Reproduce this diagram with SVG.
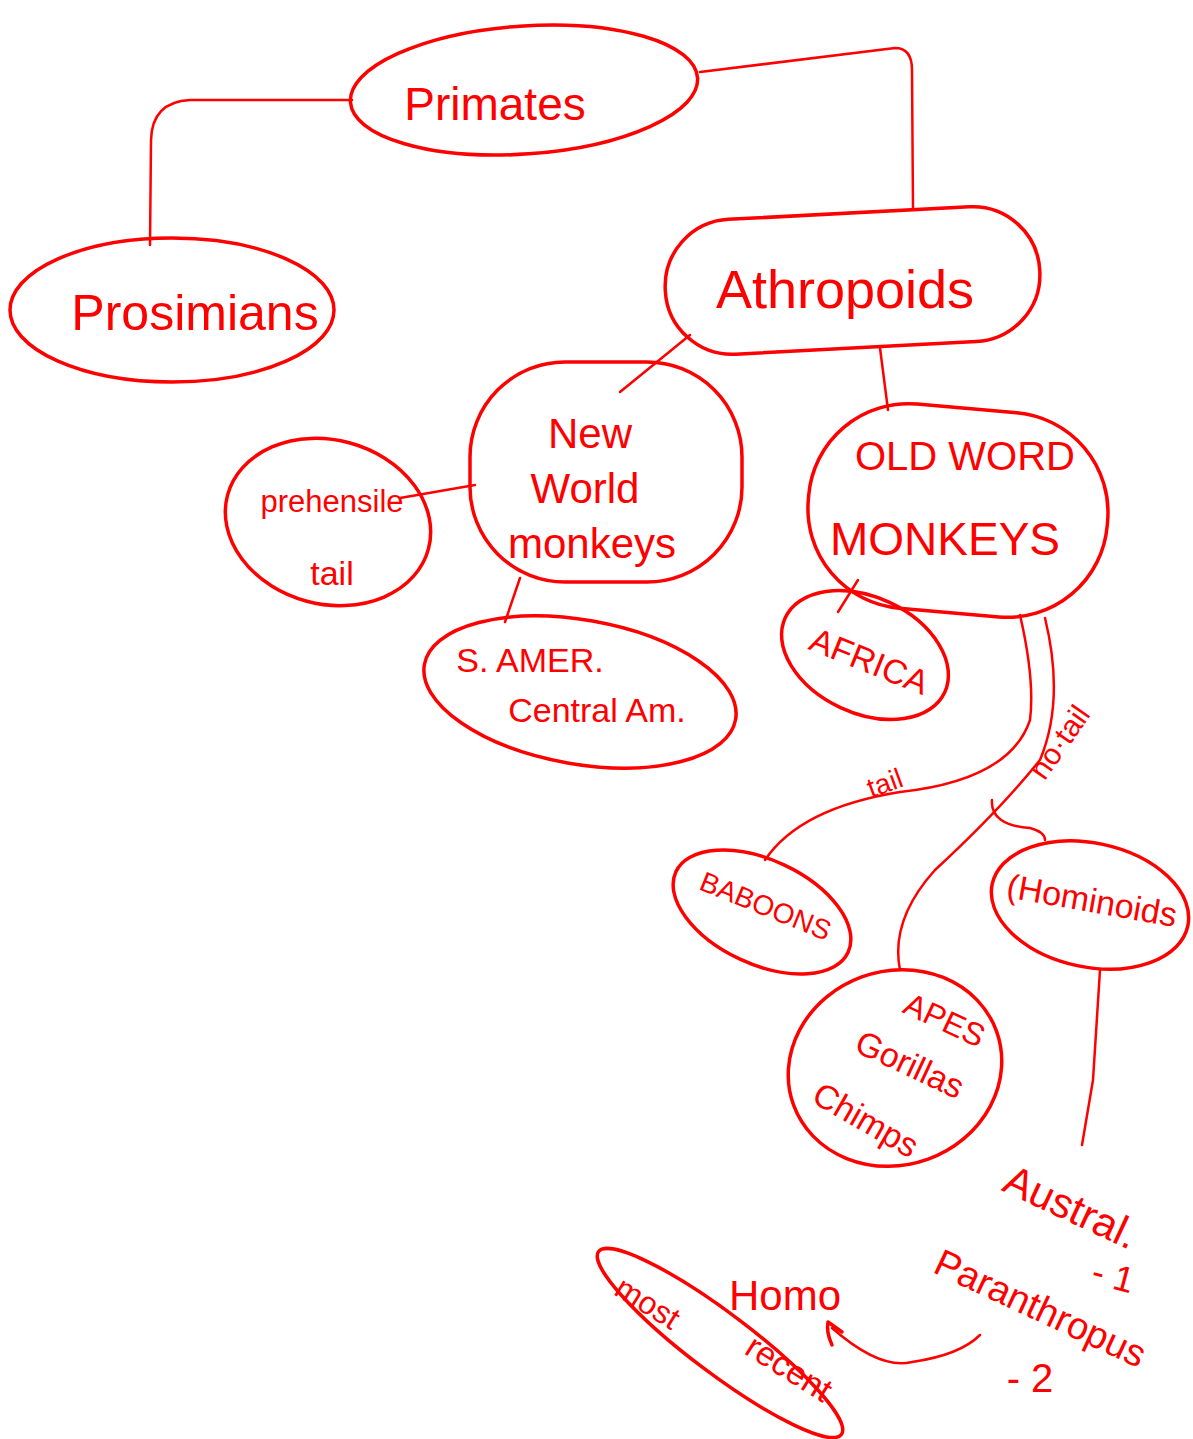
<svg xmlns="http://www.w3.org/2000/svg" width="1193" height="1439" viewBox="0 0 1193 1439">
<defs>
<style>
.s{fill:none;stroke:#ff0000;stroke-width:3.5;stroke-linecap:round;stroke-linejoin:round}
.c{fill:none;stroke:#ff0000;stroke-width:2.5;stroke-linecap:round;stroke-linejoin:round}
.t{fill:#ff0000;font-family:"Liberation Sans","DejaVu Sans",sans-serif;text-anchor:middle}
</style>
</defs>
<rect width="1193" height="1439" fill="#ffffff"/>

<g id="connectors">
<path class="c" d="M352 100 L190 100 Q152 102 151 140 L150 245"/>
<path class="c" d="M700 72 L895 48 Q912 48 912 70 L913 210"/>
<path class="c" d="M690 335 L620 392"/>
<path class="c" d="M880 348 L888 410"/>
<path class="c" d="M475 485 L400 498"/>
<path class="c" d="M520 578 L505 622"/>
<path class="c" d="M858 580 L838 612"/>
<path class="c" d="M1020 615 Q1035 680 1030 720 Q1010 780 900 792 Q800 808 765 860"/>
<path class="c" d="M1045 618 Q1065 700 1040 760 Q1000 810 935 870 Q890 920 900 970"/>
<path class="c" d="M992 800 Q990 825 1030 828 Q1045 832 1045 840"/>
<path class="c" d="M1100 970 L1093 1080 L1082 1145"/>
<path class="c" d="M980 1335 Q960 1355 912 1362 Q880 1370 832 1328"/>
<path class="s" d="M842 1332 L828 1322 Q826 1332 832 1345"/>
<text class="t" font-size="28" transform="translate(888 792) rotate(-20)">tail</text>
<text class="t" font-size="30" transform="translate(1068 748) rotate(-55)">no·tail</text>
</g>

<g id="primates">
<ellipse class="s" cx="524" cy="90" rx="174" ry="64" transform="rotate(-4 524 90)"/>
<text class="t" x="495" y="120" font-size="46">Primates</text>
</g>

<g id="prosimians">
<ellipse class="s" cx="172" cy="310" rx="162" ry="72"/>
<text class="t" x="195" y="330" font-size="50">Prosimians</text>
</g>

<g id="athropoids">
<rect class="s" x="665" y="213" width="375" height="135" rx="67" transform="rotate(-3 852 280)"/>
<text class="t" x="845" y="308" font-size="54">Athropoids</text>
</g>

<g id="new-world">
<rect class="s" x="470" y="362" width="272" height="220" rx="95"/>
<text class="t" x="590" y="448" font-size="42">New</text>
<text class="t" x="585" y="503" font-size="42">World</text>
<text class="t" x="592" y="558" font-size="42">monkeys</text>
</g>

<g id="prehensile-tail">
<ellipse class="s" cx="328" cy="522" rx="104" ry="82" transform="rotate(15 328 522)"/>
<text class="t" x="332" y="512" font-size="31">prehensile</text>
<text class="t" x="332" y="585" font-size="34">tail</text>
</g>

<g id="s-amer">
<ellipse class="s" cx="580" cy="692" rx="158" ry="72" transform="rotate(10 580 692)"/>
<text class="t" x="530" y="672" font-size="34">S. AMER.</text>
<text class="t" x="597" y="722" font-size="34">Central Am.</text>
</g>

<g id="old-world">
<rect class="s" x="808" y="408" width="300" height="205" rx="100" transform="rotate(5 958 510)"/>
<text class="t" x="965" y="470" font-size="40">OLD WORD</text>
<text class="t" x="945" y="555" font-size="46">MONKEYS</text>
</g>

<g id="africa">
<ellipse class="s" cx="865" cy="655" rx="88" ry="58" transform="rotate(25 865 655)"/>
<text class="t" font-size="34" transform="translate(865 672) rotate(22)">AFRICA</text>
</g>

<g id="baboons">
<ellipse class="s" cx="762" cy="912" rx="95" ry="52" transform="rotate(25 762 912)"/>
<text class="t" font-size="28" transform="translate(762 915) rotate(22)">BABOONS</text>
</g>

<g id="hominoids">
<ellipse class="s" cx="1090" cy="905" rx="100" ry="62" transform="rotate(12 1090 905)"/>
<text class="t" font-size="34" transform="translate(1090 912) rotate(10)">(Hominoids</text>
</g>

<g id="apes">
<ellipse class="s" cx="895" cy="1068" rx="108" ry="97" transform="rotate(-20 895 1068)"/>
<text class="t" font-size="32" transform="translate(940 1030) rotate(25)">APES</text>
<text class="t" font-size="34" transform="translate(905 1075) rotate(25)">Gorillas</text>
<text class="t" font-size="34" transform="translate(860 1130) rotate(30)">Chimps</text>
</g>

<g id="austral">
<text class="t" font-size="42" transform="translate(1065 1220) rotate(25)">Austral.</text>
<text class="t" font-size="36" transform="translate(1110 1288) rotate(15)">- 1</text>
</g>

<g id="paranthropus">
<text class="t" font-size="38" transform="translate(1035 1320) rotate(25)">Paranthropus</text>
<text class="t" font-size="40" transform="translate(1030 1392)">- 2</text>
</g>

<g id="homo">
<text class="t" x="785" y="1310" font-size="42">Homo</text>
</g>

<g id="most-recent">
<ellipse class="s" cx="720" cy="1343" rx="152" ry="30" transform="rotate(37 720 1343)"/>
<text class="t" font-size="32" transform="translate(642 1312) rotate(32)">most</text>
<text class="t" font-size="34" transform="translate(783 1378) rotate(32)">recent</text>
</g>
</svg>
